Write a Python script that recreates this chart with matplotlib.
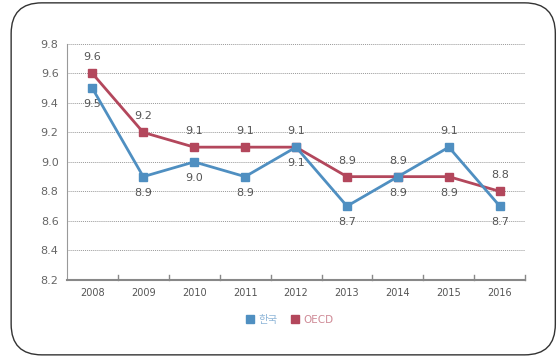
import numpy as np
import matplotlib.pyplot as plt
from matplotlib.patches import FancyBboxPatch
from matplotlib.lines import Line2D

plt.rcParams["font.family"] = ["DejaVu Sans", "Noto Sans CJK KR"]

# ── Data ────────────────────────────────────────────────────────────────────
years = ["2008", "2009", "2010", "2011", "2012", "2013", "2014", "2015", "2016"]
korea = [9.5, 8.9, 9.0, 8.9, 9.1, 8.7, 8.9, 9.1, 8.7]
oecd = [9.6, 9.2, 9.1, 9.1, 9.1, 8.9, 8.9, 8.9, 8.8]
yticks = [8.2, 8.4, 8.6, 8.8, 9.0, 9.2, 9.4, 9.6, 9.8]

KR_COLOR = "#4f8fc1"
OECD_COLOR = "#b3475c"
TEXT = "#555555"

fig = plt.figure(figsize=(5.57, 3.57), dpi=100)

# rounded frame around the whole chart
frame = FancyBboxPatch((0.020, 0.006), 0.977, 0.986,
                       boxstyle="round,pad=0,rounding_size=0.055",
                       transform=fig.transFigure, fill=False,
                       edgecolor="#333333", lw=1.0, mutation_aspect=557 / 357)
fig.patches.append(frame)

ax = fig.add_axes([0.120, 0.216, 0.823, 0.661])
x = np.arange(len(years))

ax.plot(x, oecd, color=OECD_COLOR, lw=2, marker="s", ms=5.5, zorder=3)
ax.plot(x, korea, color=KR_COLOR, lw=2, marker="s", ms=5.5, zorder=4)

# value labels: the higher series above, the lower below
for i in x:
    k, o = korea[i], oecd[i]
    o_up = o >= k
    ax.annotate(f"{o:.1f}", (i, o), xytext=(0, 8 if o_up else -8),
                textcoords="offset points", ha="center",
                va="bottom" if o_up else "top", fontsize=8, color=TEXT)
    ax.annotate(f"{k:.1f}", (i, k), xytext=(0, -8 if o_up else 8),
                textcoords="offset points", ha="center",
                va="top" if o_up else "bottom", fontsize=8, color=TEXT)

ax.set_xlim(-0.5, len(years) - 0.5)
ax.set_ylim(8.2, 9.8)
ax.set_yticks(yticks)
ax.set_yticklabels([f"{v:.1f}" for v in yticks], fontsize=8, color="#666666")
ax.set_xticks(x)
ax.set_xticklabels(years, fontsize=7, color=TEXT)
ax.tick_params(axis="x", length=0, pad=6)
ax.tick_params(axis="y", length=0, pad=6)

# category boundary ticks on the bottom axis
for b in np.arange(0.5, len(years) - 0.5 + 1e-9, 1.0):
    ax.plot([b, b], [8.2, 8.23], color="#888888", lw=1.0, clip_on=False, zorder=2)

ax.grid(axis="y", linestyle=(0, (1, 1)), color="#999999", lw=0.7)
ax.set_axisbelow(True)
for s in ["top", "right"]:
    ax.spines[s].set_visible(False)
ax.spines["left"].set_color("#999999")
ax.spines["bottom"].set_color("#888888")
ax.spines["bottom"].set_linewidth(1.5)

handles = [
    Line2D([], [], color=KR_COLOR, marker="s", ls="none", ms=5.5),
    Line2D([], [], color=OECD_COLOR, marker="s", ls="none", ms=5.5),
]
leg = fig.legend(handles, ["한국", "OECD"], loc="center",
                 bbox_to_anchor=(0.52, 0.105), ncol=2, frameon=False,
                 fontsize=7.5, handlelength=0.8, handletextpad=0.4,
                 columnspacing=1.2)
for t, c in zip(leg.get_texts(), ["#8fb6d8", "#cf8a96"]):
    t.set_color(c)

fig.savefig("out.png", dpi=100)
